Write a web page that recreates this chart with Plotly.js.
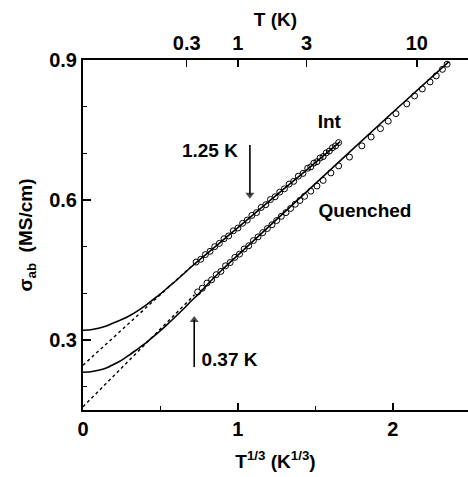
<!DOCTYPE html>
<html>
<head>
<meta charset="utf-8">
<script src="https://cdn.plot.ly/plotly-3.0.1.min.js"></script>
<style>html,body{margin:0;padding:0;background:#fff;}#chart{width:468px;height:477px;}</style>
</head>
<body>
<div id="chart"></div>
<script>
// ---- data (x = T^(1/3) in K^(1/3), y = sigma_ab in MS/cm) ----
const intDataX = [0.73,0.76,0.79,0.82,0.85,0.88,0.91,0.94,0.97,1.00,1.03,1.06,1.09,1.12,1.15,1.18,1.21,1.24,1.27,1.30,1.33,1.36,1.39,1.42,1.45,1.47,1.49,1.51,1.53,1.55,1.57,1.59,1.61,1.63,1.65];
const intDataY = [0.467,0.473,0.483,0.490,0.500,0.507,0.517,0.523,0.534,0.540,0.550,0.557,0.567,0.573,0.584,0.590,0.601,0.607,0.617,0.624,0.634,0.640,0.651,0.657,0.668,0.671,0.679,0.682,0.690,0.693,0.701,0.705,0.712,0.716,0.723];

const quenDataX = [0.74,0.77,0.80,0.83,0.86,0.89,0.92,0.95,0.98,1.01,1.04,1.07,1.10,1.13,1.16,1.19,1.22,1.25,1.28,1.31,1.34,1.37,1.40,1.43,1.47,1.51,1.55,1.60,1.65,1.72,1.80,1.86,1.92,1.97,2.02,2.09,2.14,2.19,2.24,2.28,2.32,2.35];
const quenDataY = [0.403,0.411,0.422,0.429,0.440,0.447,0.459,0.466,0.477,0.484,0.495,0.502,0.513,0.521,0.530,0.539,0.547,0.556,0.565,0.573,0.582,0.591,0.599,0.608,0.619,0.630,0.642,0.658,0.673,0.692,0.716,0.735,0.753,0.769,0.785,0.806,0.823,0.838,0.853,0.866,0.880,0.891];

const intFitX = [0, 0.05, 0.10, 0.15, 0.20, 0.25, 0.30, 0.35, 0.40, 0.45, 0.50, 0.55, 0.60, 0.65, 0.70, 0.80, 0.90, 1.00, 1.20, 1.40, 1.66];
const intFitY = [0.321, 0.322, 0.325, 0.330, 0.337, 0.344, 0.352, 0.362, 0.373, 0.386, 0.399, 0.413, 0.427, 0.442, 0.457, 0.485, 0.513, 0.541, 0.597, 0.652, 0.725];

const quenFitX = [0, 0.05, 0.10, 0.15, 0.20, 0.25, 0.30, 0.35, 0.40, 0.45, 0.50, 0.55, 0.60, 0.65, 0.70, 0.75, 0.80, 0.90, 1.00, 1.50, 2.00, 2.36];
const quenFitY = [0.231, 0.232, 0.235, 0.240, 0.248, 0.257, 0.268, 0.280, 0.292, 0.306, 0.320, 0.335, 0.351, 0.367, 0.384, 0.400, 0.418, 0.451, 0.482, 0.635, 0.788, 0.896];

const intLineX = [0, 0.70];
const intLineY = [0.246, 0.458];
const quenLineX = [0, 0.72];
const quenLineY = [0.157, 0.397];

const topTickT = [0.3, 1, 3, 10];
const topTickText = ['0.3', '1', '3', '10'];
const markerTemps = [1.25, 0.37];
const arrowTailY = [0.718, 0.242];
const arrowHeadY = [0.611, 0.343];

const labelText = ['1.25 K', '0.37 K', 'Int', 'Quenched'];
const labelX = [1.0, 0.765, 1.59, 1.82];
const labelY = [0.703, 0.255, 0.765, 0.574];
const labelPos = ['middle left', 'middle right', 'middle center', 'middle center'];

// ---- drawing ----
const FONT = 'Liberation Sans, Arial, sans-serif';
const xr = [0, 2.485];
const yr = [0.15, 0.9];

const solid = {color: '#000', width: 1.6, shape: 'spline', smoothing: 0.5};
const dotted = {color: '#000', width: 1.4, dash: 'dot'};
const circ = {symbol: 'circle-open', size: 6, color: '#000', line: {width: 1, color: '#000'}};

const xA = markerTemps.map(t => Math.cbrt(t));

const traces = [
  {x: intLineX, y: intLineY, mode: 'lines', line: dotted, xaxis: 'x2', hoverinfo: 'skip'},
  {x: quenLineX, y: quenLineY, mode: 'lines', line: dotted, xaxis: 'x2', hoverinfo: 'skip'},
  {x: intFitX, y: intFitY, mode: 'lines', line: solid},
  {x: quenFitX, y: quenFitY, mode: 'lines', line: solid},
  {x: intDataX, y: intDataY, mode: 'markers', marker: circ},
  {x: quenDataX, y: quenDataY, mode: 'markers', marker: circ},
  // arrows marking 1.25 K (down) and 0.37 K (up)
  {x: [xA[0], xA[0]], y: [arrowTailY[0], arrowHeadY[0]], mode: 'lines+markers',
   line: {color: '#000', width: 1.6},
   marker: {symbol: ['circle', 'triangle-down'], size: [0, 8], color: '#000', line: {width: 0}}},
  {x: [xA[1], xA[1]], y: [arrowTailY[1], arrowHeadY[1]], mode: 'lines+markers',
   line: {color: '#000', width: 1.6},
   marker: {symbol: ['circle', 'triangle-up'], size: [0, 8], color: '#000', line: {width: 0}}},
  // in-plot labels
  {x: labelX, y: labelY, text: labelText, mode: 'text', textposition: labelPos,
   textfont: {family: FONT, size: 19, color: '#000', weight: 'bold'}, hoverinfo: 'skip'}
];

const tf = {family: FONT, size: 20, color: '#000', weight: 'bold'};
const titleFont = {family: FONT, size: 19, color: '#000', weight: 'bold'};
const axCommon = {
  showline: true, linecolor: '#000', linewidth: 2, mirror: false,
  showgrid: false, zeroline: false,
  ticks: 'inside', tickcolor: '#000', tickwidth: 1.5,
  tickfont: tf
};

const layout = {
  width: 468, height: 477,
  margin: {l: 83, r: 0, t: 60, b: 67, pad: 0},
  paper_bgcolor: '#fff', plot_bgcolor: '#fff',
  showlegend: false,
  font: {family: FONT, color: '#000'},
  xaxis: Object.assign({}, axCommon, {
    range: xr, tick0: 0, dtick: 1, ticklen: 7, tickformat: 'd',
    minor: {dtick: 0.5, tick0: 0, ticks: 'inside', ticklen: 4, tickwidth: 1.5, tickcolor: '#000'},
    title: {text: 'T<sup>1/3</sup> (K<sup>1/3</sup>)', font: titleFont, standoff: 16}
  }),
  xaxis2: Object.assign({}, axCommon, {
    range: xr, overlaying: 'x', side: 'top', anchor: 'y', ticklen: 7,
    tickmode: 'array', tickvals: topTickT.map(t => Math.cbrt(t)), ticktext: topTickText,
    title: {text: 'T (K)', font: titleFont, standoff: 0}
  }),
  yaxis: Object.assign({}, axCommon, {
    range: yr, tick0: 0, dtick: 0.3, ticklen: 8, tickformat: '.1f',
    minor: {dtick: 0.1, tick0: 0, ticks: 'inside', ticklen: 4, tickwidth: 1.5, tickcolor: '#000'},
    title: {text: 'σ<sub>ab</sub>  (MS/cm)', font: titleFont, standoff: 12}
  })
};

Plotly.newPlot('chart', traces, layout, {staticPlot: true, displayModeBar: false});
</script>
</body>
</html>
